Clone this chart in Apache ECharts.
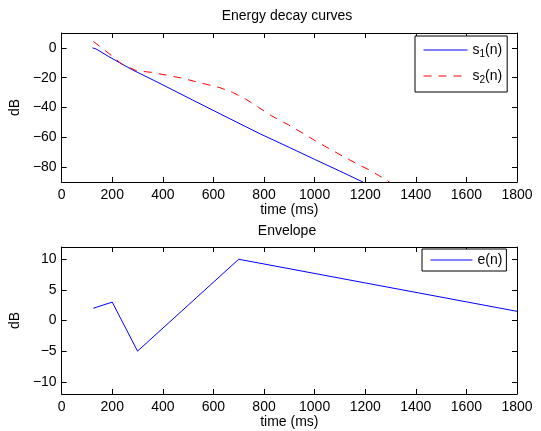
<!DOCTYPE html>
<html><head><meta charset="utf-8">
<script src="https://cdn.jsdelivr.net/npm/echarts@6/dist/echarts.min.js"></script>
<style>html,body{margin:0;padding:0;background:#fff}#c{width:541px;height:431px}</style>
</head><body><div id="c"></div>
<script>
// ---- data ----
const s1Time   = [122, 135, 184, 276, 380, 518, 622, 786, 900, 1000, 1100, 1191];
const s1Values = [0, -0.6, -5.6, -14.4, -23.1, -35, -43.9, -57.8, -66.8, -74.8, -82.7, -90];
const s2Time   = [125, 184, 237, 295, 354, 413, 478, 557, 622, 675, 727, 779, 831, 897, 956, 1008, 1067, 1119, 1171, 1224, 1289, 1296];
const s2Values = [4.4, -3.4, -10.8, -15.3, -16.4, -18.2, -20.4, -23.8, -26.5, -29.8, -34.3, -40, -45.7, -51.7, -57.5, -62.9, -68.5, -73.4, -78.1, -82.6, -89.3, -90];
const eTime    = [125, 200, 300, 700, 1800];
const eValues  = [2, 3, -5, 10, 1.5];
const topYTicks = [-80, -60, -40, -20, 0];
const botYTicks = [-10, -5, 0, 5, 10];
const xTickStep = 200;

const FONT = "'Liberation Sans', Arial, Helvetica, sans-serif";
const pairs = (xs, ys) => xs.map((x, i) => [x, ys[i]]);
const minus = v => String(v).replace('-', '\u2212');

function xAxisPair(gi) {
  const base = {
    gridIndex: gi, type: 'value', min: 0, max: 1800, interval: xTickStep,
    axisLine: { onZero: false, lineStyle: { color: '#000', width: 1 } },
    axisTick: { inside: true, length: 5, lineStyle: { color: '#000' } },
    splitLine: { show: false }
  };
  return [
    Object.assign({}, base, {
      position: 'bottom',
      axisLabel: { color: '#000', fontSize: 14, fontFamily: FONT, margin: 6, formatter: v => String(v) },
      name: 'time (ms)', nameLocation: 'middle', nameGap: 21,
      nameTextStyle: { color: '#000', fontSize: 14, fontFamily: FONT }
    }),
    Object.assign({}, base, { position: 'top', axisLabel: { show: false } })
  ];
}
function yAxisPair(gi, mn, mx, ticks) {
  const base = {
    gridIndex: gi, type: 'value', min: mn, max: mx,
    axisLine: { onZero: false, lineStyle: { color: '#000', width: 1 } },
    axisTick: { inside: true, length: 5, customValues: ticks, lineStyle: { color: '#000' } },
    splitLine: { show: false }
  };
  return [
    Object.assign({}, base, {
      position: 'left',
      axisLabel: { customValues: ticks, color: '#000', fontSize: 14, fontFamily: FONT, margin: 5, formatter: minus },
      name: 'dB', nameLocation: 'middle', nameGap: 31, nameRotate: 90,
      nameTextStyle: { color: '#000', fontSize: 14, fontFamily: FONT }
    }),
    Object.assign({}, base, { position: 'right', axisLabel: { show: false } })
  ];
}

const rich = {
  t: { fontSize: 14, fontFamily: FONT, color: '#000', lineHeight: 18 },
  sub: { fontSize: 10, fontFamily: FONT, color: '#000', verticalAlign: 'bottom', lineHeight: 10 }
};
const hiddenSymbol = { color: 'rgba(0,0,0,0)', borderWidth: 0, borderColor: 'rgba(0,0,0,0)' };

const chart = echarts.init(document.getElementById('c'), null, { renderer: 'canvas' });
chart.setOption({
  backgroundColor: '#fff',
  animation: false,
  title: [
    { text: 'Energy decay curves', left: 287, top: 9, textAlign: 'center', padding: 0,
      textStyle: { fontSize: 14, fontWeight: 'normal', color: '#000', fontFamily: FONT } },
    { text: 'Envelope', left: 287, top: 224, textAlign: 'center', padding: 0,
      textStyle: { fontSize: 14, fontWeight: 'normal', color: '#000', fontFamily: FONT } }
  ],
  grid: [
    { left: 58, top: 33, width: 459, height: 149 },
    { left: 58, top: 247, width: 459, height: 147 }
  ],
  xAxis: xAxisPair(0).concat(xAxisPair(1)),
  yAxis: yAxisPair(0, -90, 10, topYTicks).concat(yAxisPair(1, -12, 12, botYTicks)),
  legend: [
    { data: ['s1(n)', 's2(n)'], orient: 'vertical', left: 415, top: 36,
      padding: [7, 5, 7, 8], itemGap: 10, itemWidth: 44, itemHeight: 14,
      borderColor: '#000', borderWidth: 1, backgroundColor: '#fff', borderRadius: 0,
      itemStyle: hiddenSymbol, lineStyle: { width: 1 },
      formatter: n => n === 's1(n)' ? '{t|s}{sub|1}{t|(n)}' : '{t|s}{sub|2}{t|(n)}',
      textStyle: { rich: rich } },
    { data: ['e(n)'], orient: 'vertical', left: 422, top: 249,
      padding: [4, 4, 4, 8], itemGap: 9, itemWidth: 42, itemHeight: 14,
      borderColor: '#000', borderWidth: 1, backgroundColor: '#fff', borderRadius: 0,
      itemStyle: hiddenSymbol, lineStyle: { width: 1 },
      formatter: n => '{t|' + n + '}',
      textStyle: { rich: rich } }
  ],
  series: [
    { name: 's1(n)', type: 'line', xAxisIndex: 0, yAxisIndex: 0, data: pairs(s1Time, s1Values),
      symbol: 'none', lineStyle: { color: '#0000ff', width: 1 }, itemStyle: { color: '#0000ff' } },
    { name: 's2(n)', type: 'line', xAxisIndex: 0, yAxisIndex: 0, data: pairs(s2Time, s2Values),
      symbol: 'none', lineStyle: { color: '#ff0000', width: 1, type: [8, 7] }, itemStyle: { color: '#ff0000' } },
    { name: 'e(n)', type: 'line', xAxisIndex: 2, yAxisIndex: 2, data: pairs(eTime, eValues),
      symbol: 'none', lineStyle: { color: '#0000ff', width: 1 }, itemStyle: { color: '#0000ff' } }
  ]
});
</script></body></html>
